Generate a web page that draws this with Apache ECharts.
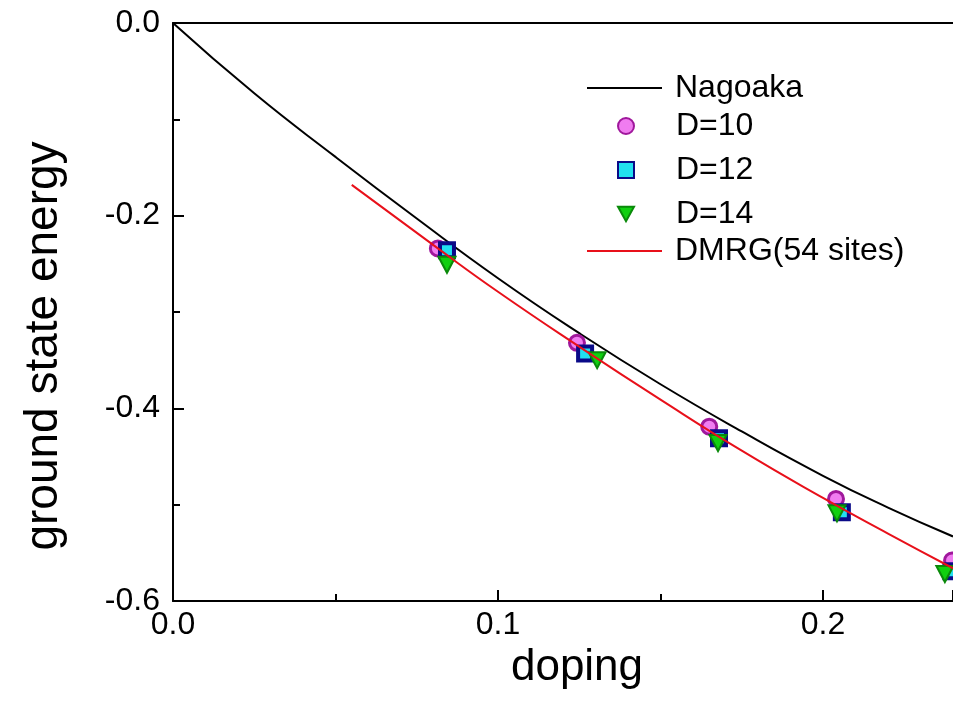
<!DOCTYPE html>
<html>
<head>
<meta charset="utf-8">
<script src="https://cdn.jsdelivr.net/npm/echarts@6/dist/echarts.min.js"></script>
<style>
  html, body { margin: 0; padding: 0; background: #fff; }
  #chart { width: 953px; height: 711px; }
</style>
</head>
<body>
<div id="chart"></div>
<script>
// Nagaoka-state energy curve (doping, energy)
const nagaokaX = [0, 0.025, 0.05, 0.075, 0.1, 0.125, 0.15, 0.175, 0.2, 0.22, 0.24];
const nagaokaY = [0, -0.073, -0.139, -0.203, -0.265, -0.322, -0.375, -0.424, -0.470, -0.503, -0.533];

// DMRG reference on 54 sites
const dmrgX = [0.055, 0.0815, 0.1, 0.125, 0.15, 0.175, 0.2, 0.22, 0.24];
const dmrgY = [-0.168, -0.234, -0.279, -0.336, -0.391, -0.444, -0.493, -0.530, -0.566];

// Tensor-network results for bond dimensions D = 10, 12, 14
const d10X = [0.0815, 0.1243, 0.165, 0.204, 0.2397];
const d10Y = [-0.234, -0.332, -0.419, -0.494, -0.558];
const d12X = [0.0843, 0.1268, 0.168, 0.2058, 0.2395];
const d12Y = [-0.236, -0.343, -0.431, -0.508, -0.569];
const d14X = [0.0843, 0.1305, 0.1677, 0.2043, 0.2375];
const d14Y = [-0.251, -0.350, -0.436, -0.509, -0.572];

const xTicks = ['0.0', '0.1', '0.2'];
const yTicks = ['0.0', '-0.2', '-0.4', '-0.6'];

const zip = (xs, ys) => xs.map((x, i) => [x, ys[i]]);
const FONT = '"Liberation Sans", Arial, sans-serif';
const LINE_ICON = 'path://M0,0H75V2H0Z';
const DOWN_TRIANGLE = 'path://M0,0L20,0L10,18Z';

const chart = echarts.init(document.getElementById('chart'), null, { renderer: 'canvas' });

const frameLine = () => ({ show: true, onZero: false, lineStyle: { color: '#000', width: 2 } });
const legendText = pad => ({ fontFamily: FONT, fontSize: 32, color: '#000', padding: [0, 0, 0, pad] });
const majorTick = () => ({ show: true, inside: true, length: 11, lineStyle: { width: 2, color: '#000' } });
const minorTick = () => ({ show: true, splitNumber: 2, length: 7, lineStyle: { width: 2, color: '#000' } });

chart.setOption({
  backgroundColor: '#fff',
  animation: false,
  grid: { left: 173, top: 23, right: 0, bottom: 110, containLabel: false },
  xAxis: [{
    type: 'value', min: 0, max: 0.24, interval: 0.1,
    name: 'doping', nameLocation: 'middle', nameGap: 31,
    nameTextStyle: { fontFamily: FONT, fontSize: 44, color: '#000', padding: [0, 0, 0, 28] },
    axisLine: frameLine(),
    axisTick: majorTick(),
    minorTick: minorTick(),
    axisLabel: {
      fontFamily: FONT, fontSize: 32, color: '#000', margin: 8, showMaxLabel: false,
      formatter: v => xTicks[Math.round(v * 10)] ?? ''
    },
    splitLine: { show: false }
  }, {
    type: 'value', position: 'top', min: 0, max: 0.24,
    axisLine: frameLine(), axisTick: { show: false }, minorTick: { show: false },
    axisLabel: { show: false }, splitLine: { show: false }
  }],
  yAxis: [{
    type: 'value', min: -0.6, max: 0, interval: 0.2,
    name: 'ground state energy', nameLocation: 'middle', nameGap: 106,
    nameTextStyle: { fontFamily: FONT, fontSize: 46, color: '#000', padding: [0, 68, 0, 0] },
    axisLine: frameLine(),
    axisTick: majorTick(),
    minorTick: minorTick(),
    axisLabel: {
      fontFamily: FONT, fontSize: 32, color: '#000', margin: 13,
      formatter: v => yTicks[Math.round(-v * 5)] ?? ''
    },
    splitLine: { show: false }
  }],
  legend: [{
    data: [{ name: 'Nagoaka', icon: LINE_ICON }], orient: 'vertical', left: 582, top: 67,
    itemWidth: 75, itemHeight: 16, textStyle: legendText(8)
  }, {
    data: ['D=10', 'D=12', { name: 'D=14', icon: DOWN_TRIANGLE }], orient: 'vertical', left: 612, top: 105,
    itemWidth: 16, itemHeight: 16, itemGap: 12, textStyle: legendText(37)
  }, {
    data: [{ name: 'DMRG(54 sites)', icon: LINE_ICON }], orient: 'vertical', left: 582, top: 230,
    itemWidth: 75, itemHeight: 16, textStyle: legendText(8)
  }],
  series: [{
    name: 'Nagoaka', type: 'line', data: zip(nagaokaX, nagaokaY),
    smooth: true, symbol: 'none', showSymbol: false,
    lineStyle: { color: '#000', width: 2 }, itemStyle: { color: '#000' }, z: 2
  }, {
    name: 'DMRG(54 sites)', type: 'line', data: zip(dmrgX, dmrgY),
    smooth: true, symbol: 'none', showSymbol: false,
    lineStyle: { color: '#e8101a', width: 2 }, itemStyle: { color: '#e8101a' }, z: 5
  }, {
    name: 'D=10', type: 'scatter', data: zip(d10X, d10Y),
    symbol: 'circle', symbolSize: 15, clip: false,
    itemStyle: { color: '#f07cf0', borderColor: '#a0189c', borderWidth: 3, opacity: 1 }, z: 3
  }, {
    name: 'D=12', type: 'scatter', data: zip(d12X, d12Y),
    symbol: 'rect', symbolSize: 14, clip: false,
    itemStyle: { color: '#22e0f0', borderColor: '#0a0a88', borderWidth: 4, opacity: 1 }, z: 3
  }, {
    name: 'D=14', type: 'scatter', data: zip(d14X, d14Y),
    symbol: 'triangle', symbolRotate: 180, symbolSize: [17, 16], clip: false,
    itemStyle: { color: '#10d010', borderColor: '#0a8a0a', borderWidth: 2, opacity: 1 }, z: 4
  }]
});
</script>
</body>
</html>
